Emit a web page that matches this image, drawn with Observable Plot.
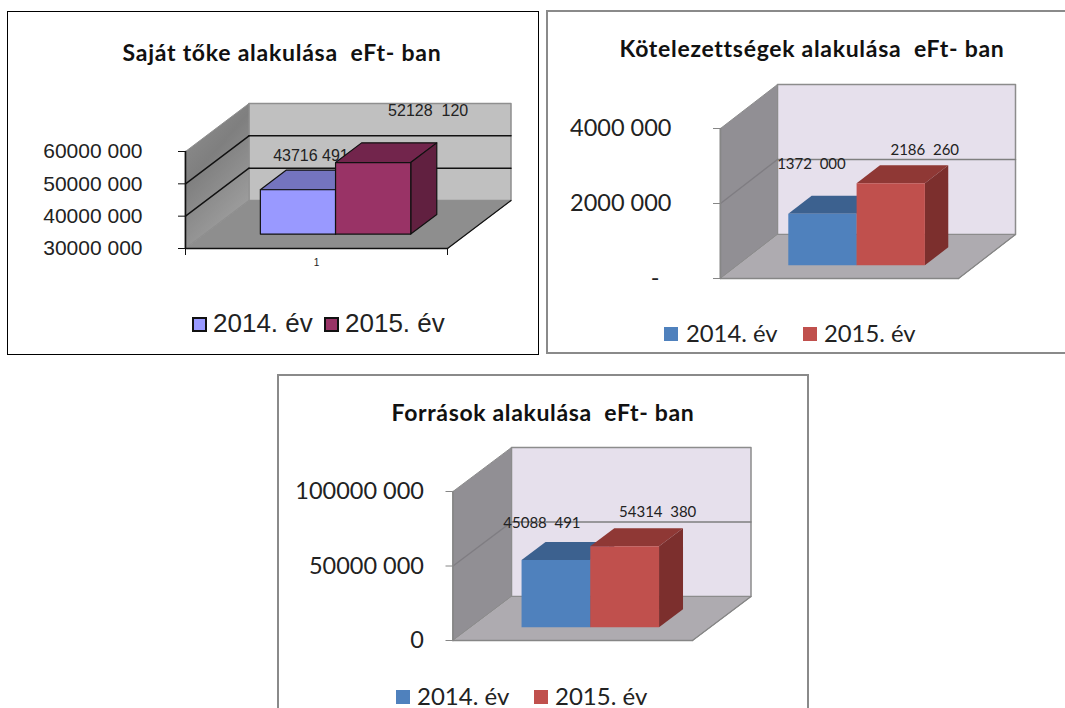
<!DOCTYPE html>
<html lang="hu"><head><meta charset="utf-8">
<script src="https://cdn.jsdelivr.net/npm/d3@7"></script>
<script src="https://cdn.jsdelivr.net/npm/@observablehq/plot@0.6"></script>
<style>
html,body{margin:0;padding:0;width:1065px;height:708px;overflow:hidden;background:#fff}
.box{position:absolute;box-sizing:border-box}
.abs{position:absolute;white-space:pre}
svg text{white-space:pre}
</style></head><body>
<div id="page"></div>
<script>
const years = ["2014. év", "2015. év"];

const equityTitle = "Saját tőke alakulása  eFt- ban";
const equityValues = [43716491, 52128120];
const equityLabels = ["43716 491", "52128  120"];
const equityTicks = [30000000, 40000000, 50000000, 60000000];
const equityTickLabels = ["30000 000", "40000 000", "50000 000", "60000 000"];

const liabilityTitle = "Kötelezettségek alakulása  eFt- ban";
const liabilityValues = [1372000, 2186260];
const liabilityLabels = ["1372  000", "2186  260"];
const liabilityTicks = [0, 2000000, 4000000];
const liabilityTickLabels = ["-  ", "2000 000", "4000 000"];

const sourceTitle = "Források alakulása  eFt- ban";
const sourceValues = [45088491, 54314380];
const sourceLabels = ["45088  491", "54314  380"];
const sourceTicks = [0, 50000000, 100000000];
const sourceTickLabels = ["0", "50000 000", "100000 000"];

const excel2003 = {
  font: "'Liberation Sans',Arial,sans-serif", titleFont: "Lato,sans-serif",
  back: "#c0c0c0", side: "url(#wall2003)", floor: "#8e8e8e",
  wallStroke: "#8f8f8f", grid: "#111", sideGrid: "#111", axis: "#111",
  barStroke: "#111", barWidth: 1.2, border: "#000", borderWidth: 1.5,
  front: ["#9999ff", "#993366"], top: ["#7474bf", "#72254c"], right: ["#5d5d9e", "#612040"],
  swatchStroke: "#111"
};
const excel2007 = {
  font: "Lato,sans-serif", titleFont: "Lato,sans-serif",
  back: "#e6e0ec", side: "#918f94", floor: "#aeabb0",
  wallStroke: "#8c8c8c", grid: "#7f7f7f", sideGrid: "#7f7d82", axis: "#868686",
  barStroke: "none", barWidth: 0, border: "#8a8a8a", borderWidth: 2.5,
  front: ["#4f81bd", "#c0504d"], top: ["#3c618f", "#8f3835"], right: ["#2f4d72", "#7c2f2d"],
  swatchStroke: "none"
};

const charts = [
  {title: equityTitle, values: equityValues, labels: equityLabels, ticks: equityTicks, tickLabels: equityTickLabels, theme: excel2003,
   box: [7, 12, 532, 342], frame: [7, 11, 532, 344], x0: 185, x1: 447, yFloor: 248, yTop: 151, depthX: 63.5, depthY: 48,
   tickFont: 21, tickPadding: 36, labelFont: 16, labelShift: [[13, -34], [55, -52]],
   titleFont: 23, titleSpacing: 0.75, titleY: 38, titleCx: 282, showCategory: true,
   legend: {y: 324, font: 26, items: [[192, 213], [324, 345]], size: 15}},
  {title: liabilityTitle, values: liabilityValues, labels: liabilityLabels, ticks: liabilityTicks, tickLabels: liabilityTickLabels, theme: excel2007,
   box: [547, 11, 530, 342], frame: [546, 10, 530, 344], x0: 720, x1: 958, yFloor: 278, yTop: 128, depthX: 57, depthY: 44,
   tickFont: 23.5, tickPadding: 42, labelFont: 15, labelShift: [[-11, -50], [34, -33]],
   titleFont: 23, titleSpacing: 0.7, titleY: 34, titleCx: 812,
   legend: {y: 334, font: 23.8, items: [[664, 686], [803, 824]], size: 14}},
  {title: sourceTitle, values: sourceValues, labels: sourceLabels, ticks: sourceTicks, tickLabels: sourceTickLabels, theme: excel2007,
   box: [277, 375, 532, 350], frame: [277, 374, 532, 350], x0: 452.5, x1: 692, yFloor: 640, yTop: 491, depthX: 58.5, depthY: 44,
   tickFont: 23.5, tickPadding: 22, labelFont: 15, labelShift: [[-14, -37], [33, -34]],
   titleFont: 23, titleSpacing: 0.65, titleY: 398, titleCx: 543,
   legend: {y: 697, font: 24, items: [[396, 417], [534, 555]], size: 14}}
];

const barEdges = [0.213, 0.5, 0.787];
const barZ = [0.3, 0.71];

function face(points, fill, stroke, strokeWidth) {
  return Plot.line(points, {x: "x", y: "y", curve: "linear-closed", fill, stroke: stroke || "none", strokeWidth: strokeWidth || 0});
}

function wallGradient() {
  const defs = d3.create("svg:defs");
  const g = defs.append("linearGradient").attr("id", "wall2003").attr("x1", 0).attr("y1", 0).attr("x2", 0.5).attr("y2", 1);
  g.append("stop").attr("offset", "0%").attr("stop-color", "#929292");
  g.append("stop").attr("offset", "45%").attr("stop-color", "#7f7f7f");
  g.append("stop").attr("offset", "100%").attr("stop-color", "#a0a0a0");
  return defs.node();
}

function draw(c) {
  const t = c.theme;
  const [left, top, w, h] = c.box;
  const vMin = c.ticks[0], vMax = c.ticks[c.ticks.length - 1];
  const kx = c.depthX / (c.x1 - c.x0);
  const kv = c.depthY * (vMax - vMin) / (c.yFloor - c.yTop);
  const P = (x, z, v) => ({x: x + z * kx, y: v + z * kv});

  const marks = [
    wallGradient,
    face([P(0,1,vMin), P(1,1,vMin), P(1,1,vMax), P(0,1,vMax)], t.back, t.wallStroke, 1.5),
    face([P(0,0,vMin), P(0,1,vMin), P(0,1,vMax), P(0,0,vMax)], t.side, t.wallStroke, 1),
    face([P(0,0,vMin), P(1,0,vMin), P(1,1,vMin), P(0,1,vMin)], t.floor, t.wallStroke, 1)
  ];
  for (const v of c.ticks.slice(1, -1)) {
    marks.push(Plot.line([P(0,0,v), P(0,1,v)], {x: "x", y: "y", stroke: t.sideGrid, strokeWidth: 1.4}));
    marks.push(Plot.line([P(0,1,v), P(1,1,v)], {x: "x", y: "y", stroke: t.grid, strokeWidth: 1.5}));
  }
  marks.push(Plot.line([P(0,0,vMin), P(1,0,vMin)], {x: "x", y: "y", stroke: t.axis, strokeWidth: 1.5}));
  marks.push(Plot.line([P(1,0,vMin), P(1,1,vMin)], {x: "x", y: "y", stroke: t.axis, strokeWidth: 1.2}));
  marks.push(Plot.line([P(0,0,vMin), P(0,0,vMax)], {x: "x", y: "y", stroke: t.axis, strokeWidth: 1.6}));

  marks.push(Plot.axisY({ticks: c.ticks, tickFormat: d => c.tickLabels[c.ticks.indexOf(d)], tickSize: 7, tickPadding: c.tickPadding,
    stroke: t.axis, fontSize: c.tickFont, fill: "#222", label: null}));
  if (c.showCategory) {
    marks.push(Plot.axisX({ticks: [0, 1], tickFormat: () => "", tickSize: 7, stroke: "#111", label: null}));
    marks.push(Plot.axisX({ticks: [0.5], tickFormat: () => "1", tickSize: 0, tickPadding: 10, fontSize: 10, fill: "#222", label: null}));
  }

  c.values.forEach((v, i) => {
    const a = barEdges[i], b = barEdges[i + 1], z0 = barZ[0], z1 = barZ[1];
    const s = t.barStroke, sw = t.barWidth;
    marks.push(face([P(a,z0,v), P(b,z0,v), P(b,z1,v), P(a,z1,v)], t.top[i], s, sw));
    marks.push(face([P(b,z0,vMin), P(b,z1,vMin), P(b,z1,v), P(b,z0,v)], t.right[i], s, sw));
    marks.push(face([P(a,z0,vMin), P(b,z0,vMin), P(b,z0,v), P(a,z0,v)], t.front[i], s, sw));
    const anchor = P((a + b) / 2, z0, v);
    marks.push(Plot.text([anchor], {x: "x", y: "y", text: () => c.labels[i], dx: c.labelShift[i][0], dy: c.labelShift[i][1],
      fontSize: c.labelFont, fill: "#222"}));
  });

  const svg = Plot.plot({
    width: w, height: h,
    marginLeft: c.x0 - left, marginRight: left + w - c.x1,
    marginTop: c.yTop - top, marginBottom: top + h - c.yFloor,
    x: {domain: [0, 1], axis: null},
    y: {domain: [vMin, vMax], axis: null},
    style: {fontFamily: t.font, background: "transparent", overflow: "visible"},
    marks
  });
  svg.style.position = "absolute";
  svg.style.left = left + "px";
  svg.style.top = top + "px";

  const page = document.getElementById("page");
  const border = document.createElement("div");
  border.className = "box";
  const [fx, fy, fw, fh] = c.frame;
  border.style.cssText = `left:${fx}px;top:${fy}px;width:${fw}px;height:${fh}px;border:${t.borderWidth}px solid ${t.border}`;
  page.append(border, svg);

  const title = document.createElement("div");
  title.className = "abs";
  title.textContent = c.title;
  title.style.cssText += `left:${c.titleCx}px;top:${c.titleY}px;transform:translateX(-50%);font:bold ${c.titleFont}px ${t.titleFont};letter-spacing:${c.titleSpacing}px;color:#111`;
  page.append(title);

  years.forEach((year, i) => {
    const [sx, tx] = c.legend.items[i];
    const sw = document.createElement("div");
    sw.className = "abs";
    sw.style.cssText += `left:${sx}px;top:${c.legend.y - c.legend.size / 2}px;width:${c.legend.size}px;height:${c.legend.size}px;box-sizing:border-box;background:${t.front[i]};` +
      (t.swatchStroke !== "none" ? `border:2px solid ${t.swatchStroke}` : "");
    const lab = document.createElement("div");
    lab.className = "abs";
    lab.textContent = year;
    lab.style.cssText += `left:${tx}px;top:${c.legend.y - c.legend.font * 0.62}px;font:${c.legend.font}px/1.2 ${t.font};color:#222`;
    page.append(sw, lab);
  });
}
charts.forEach(draw);
</script>
</body></html>
